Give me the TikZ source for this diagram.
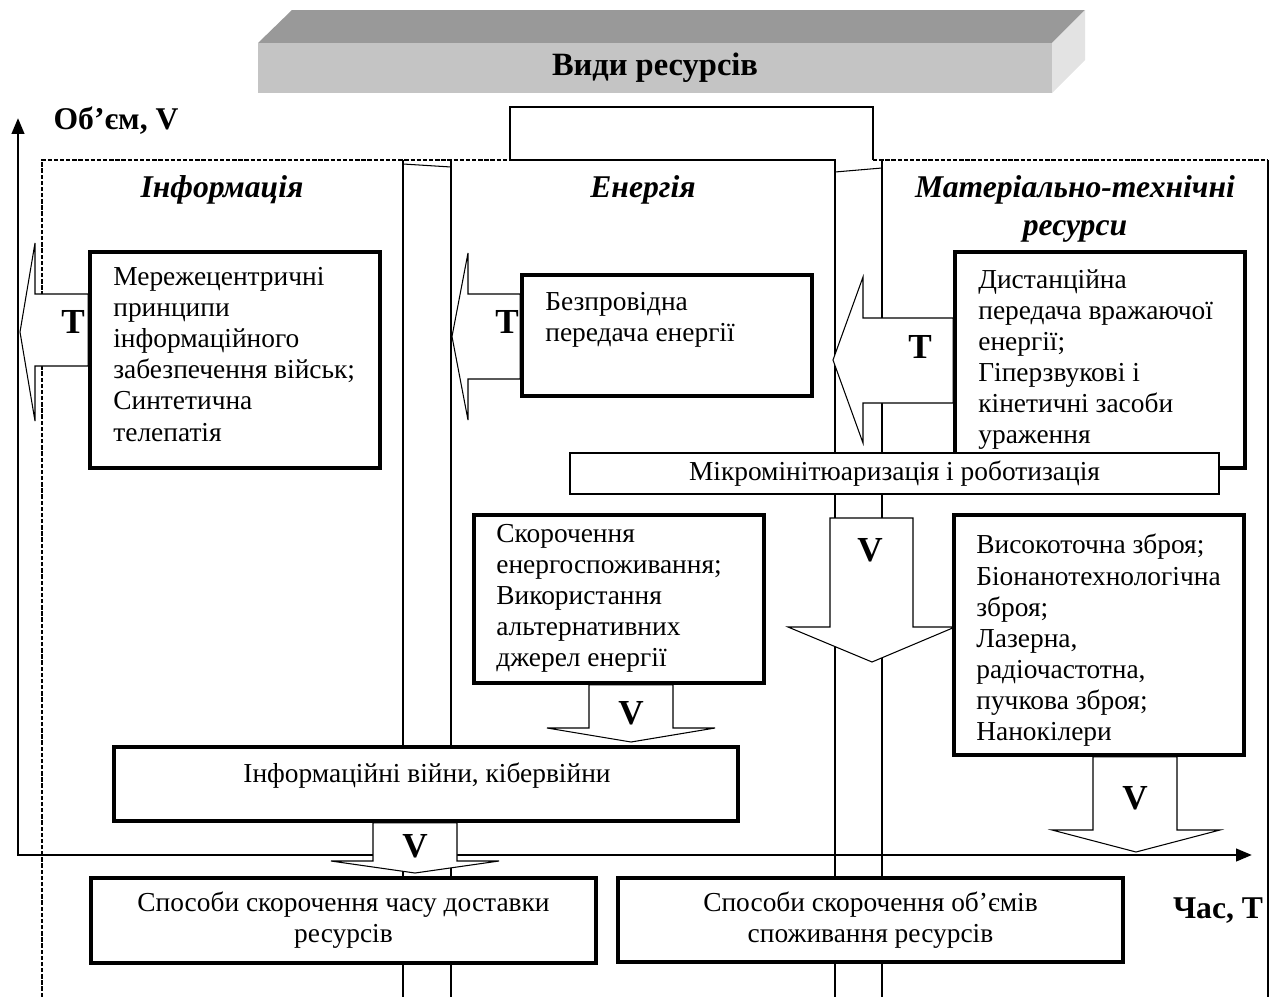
\documentclass[tikz,border=0pt]{standalone}
\usepackage{fontspec}
\setmainfont{Liberation Serif}
\usetikzlibrary{arrows.meta,backgrounds}

\definecolor{barfront}{gray}{0.77}
\definecolor{bartop}{gray}{0.60}
\definecolor{barside}{gray}{0.89}

\tikzset{
  box/.style={draw, line width=2pt, fill=white, inner sep=0pt,
    align=center, font=\fontsize{15.6}{17.7}\selectfont},
  txt/.style={align=left, inner sep=0pt, anchor=north west,
    font=\fontsize{15.6}{17.7}\selectfont},
  blk/.style={draw, fill=white, line width=0.6pt},
  lbl/.style={inner sep=0pt, font=\fontsize{18}{20}\selectfont\bfseries},
  ttl/.style={align=center, inner sep=0pt,
    font=\fontsize{18}{21.6}\selectfont\bfseries\itshape},
  colline/.style={line width=0.6pt},
  framedash/.style={line width=0.6pt, dash pattern=on 2.5pt off 1pt},
  axis/.style={line width=1.6pt,
    {Triangle[length=9pt,width=7pt]}-{Triangle[length=9pt,width=7pt]}},
}

\begin{document}
\begin{tikzpicture}[x=0.2mm, y=-0.2mm]
  \useasboundingbox (0,0) rectangle (1274,997);

  % header bar
  \fill[bartop] (258,43) -- (292,10) -- (1085,10) -- (1052,43) -- cycle;
  \fill[barside] (1052,43) -- (1085,10) -- (1085,60) -- (1052,93) -- cycle;
  \node[fill=barfront, inner sep=0pt,
    minimum width=158.8mm,
    minimum height=10mm,
    font=\fontsize{18.5}{20}\selectfont\bfseries] (kinds) at (655,68) {Види ресурсів};

  % column titles
  \node[ttl] (tinfo) at (222,190) {Інформація};
  \node[ttl] (teng) at (643,190) {Енергія};
  \node[ttl] (tmat) at (1075,209) {Матеріально-технічні\\ресурси};

  % boxes
  \node[box, minimum width=58mm, minimum height=43.2mm] (info) at (235,360) {};
  \node[box, minimum width=58mm, minimum height=24.2mm] (eng1) at (667,335.5) {};
  \node[box, minimum width=58mm, minimum height=43.2mm] (mat1) at (1100,360) {};
  \node[box, line width=1.4pt,
    minimum width=129.8mm,
    minimum height=8.2mm] (micro) at (894.5,473.5) {Мікромінітюаризація і роботизація};
  \node[box, minimum width=58mm, minimum height=33.6mm] (eng2) at (619,599) {};
  \node[box, minimum width=58mm, minimum height=48mm] (mat2) at (1099,635) {};
  \node[box, minimum width=124.8mm, minimum height=14.8mm] (infowar) at (426,784) {};
  \node[box, minimum width=101mm, minimum height=17mm] (botl) at (343.5,920.5)
    {Способи скорочення часу доставки\\ресурсів};
  \node[box, minimum width=101mm, minimum height=16.8mm] (botr) at (870.5,920)
    {Способи скорочення об’ємів\\споживання ресурсів};

  % box texts
  \node[txt] (infot) at (113,267) {Мережецентричні\\принципи\\інформаційного\\забезпечення військ;\\Синтетична\\телепатія};
  \node[txt] (eng1t) at (545,292) {Безпровідна\\передача енергії};
  \node[txt] (mat1t) at (978,269) {Дистанційна\\передача вражаючої\\енергії;\\Гіперзвукові і\\кінетичні засоби\\ураження};
  \node[txt] (eng2t) at (496,524) {Скорочення\\енергоспоживання;\\Використання\\альтернативних\\джерел енергії};
  \node[txt] (mat2t) at (976,534) {Високоточна зброя;\\Біонанотехнологічна\\зброя;\\Лазерна,\\радіочастотна,\\пучкова зброя;\\Нанокілери};
  \node[txt, anchor=center] (infowart) at (427,776) {Інформаційні війни, кібервійни};

  % axes labels
  \node[lbl] (vlabel) at (116,121) {Об’єм, V};
  \node[lbl, fill=white, inner sep=2pt] (tlabel) at (1218,911) {Час, T};

  \begin{scope}[on background layer]
    % frame and columns
    \draw[framedash] (42,997) -- (42,160) -- (510,160);
    \draw[colline] (510,160) -- (510,107) -- (873,107) -- (873,160);
    \draw[framedash] (873,160) -- (1268,160);
    \draw[colline] (403,160) -- (403,997);
    \draw[colline] (451,997) -- (451,160);
    \draw[colline] (510,160) -- (835,160) -- (835,997);
    \draw[colline] (882,160) -- (882,997);
    \draw[colline] (1268,160) -- (1268,997);
    \draw[colline] (403,164) -- (451,167);
    \draw[colline] (835,172) -- (882,168);

    % axes
    \coordinate (O) at (18,855);
    \coordinate (Vtop) at (18,118);
    \coordinate (Tend) at (1252,855);
    \draw[axis] (Vtop) -- (O) -- (Tend);

    % block arrows
    \draw[blk] (info.west |- 0,294) -- (35,294) -- (35,243) -- (20,332)
      -- (35,421) -- (35,366) -- (info.west |- 0,366) -- cycle;
    \draw[blk] (eng1.west |- 0,294) -- (468,294) -- (468,253) -- (452,336.5)
      -- (468,420) -- (468,379) -- (eng1.west |- 0,379) -- cycle;
    \draw[blk] (mat1.west |- 0,318) -- (863,318) -- (863,277) -- (833,360)
      -- (863,443) -- (863,403) -- (mat1.west |- 0,403) -- cycle;
    \draw[blk] (830,518) -- (830,627) -- (788,627) -- (872,662)
      -- (955,627) -- (913,627) -- (913,518) -- cycle;
    \draw[blk] (1093,0 |- mat2.south) -- (1093,830) -- (1052,830) -- (1136,852)
      -- (1220,830) -- (1177,830) -- (1177,0 |- mat2.south) -- cycle;
    \draw[blk] (589,0 |- eng2.south) -- (589,728) -- (547,728) -- (631,742)
      -- (715,728) -- (673,728) -- (673,0 |- eng2.south) -- cycle;
    \draw[blk] (373,0 |- infowar.south) -- (373,861) -- (331,861) -- (415,873)
      -- (499,861) -- (457,861) -- (457,0 |- infowar.south) -- cycle;
  \end{scope}

  % arrow labels
  \node[lbl, font=\fontsize{20}{22}\selectfont\bfseries] (tinfoarr) at (73,322) {T};
  \node[lbl, font=\fontsize{20}{22}\selectfont\bfseries] (tengarr) at (507,322) {T};
  \node[lbl, font=\fontsize{20}{22}\selectfont\bfseries] (tmatarr) at (920,347) {T};
  \node[lbl, font=\fontsize{20}{22}\selectfont\bfseries] (vmicro) at (870,550) {V};
  \node[lbl, font=\fontsize{20}{22}\selectfont\bfseries] (vmat) at (1135,798) {V};
  \node[lbl, font=\fontsize{20}{22}\selectfont\bfseries] (veng) at (631,713) {V};
  \node[lbl, font=\fontsize{20}{22}\selectfont\bfseries] (vwar) at (415,846) {V};

\end{tikzpicture}
\end{document}
